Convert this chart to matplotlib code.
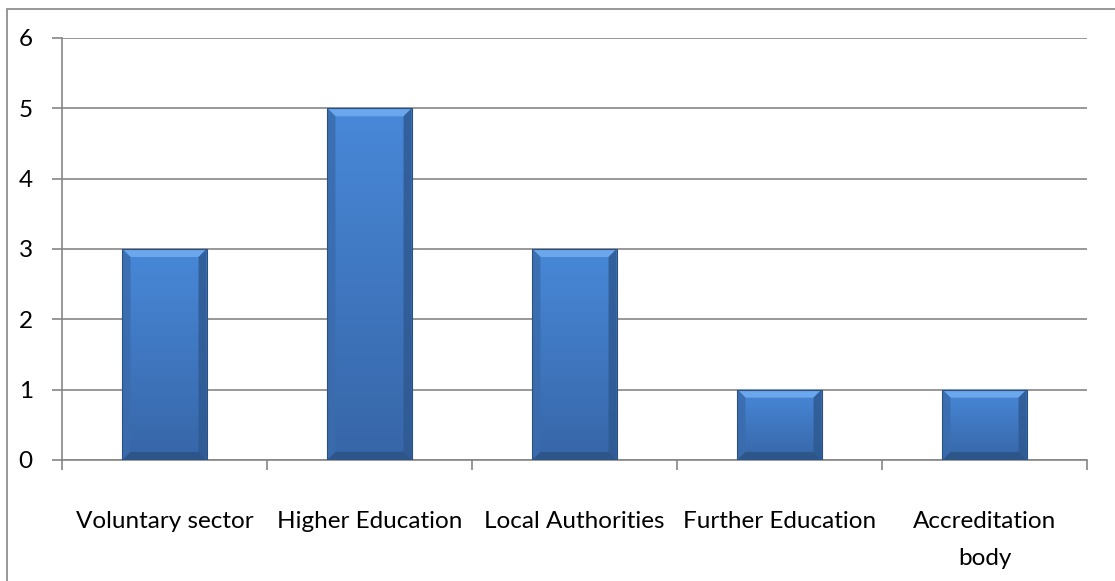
import numpy as np
import matplotlib.pyplot as plt
from matplotlib.patches import Polygon, Rectangle

categories = ["Voluntary sector", "Higher Education", "Local Authorities",
              "Further Education", "Accreditation\nbody"]
values = [3, 5, 3, 1, 1]

plt.rcParams["font.family"] = ["Lato", "DejaVu Sans"]

fig = plt.figure(figsize=(11.15, 5.81), dpi=100)
ax = fig.add_axes([0.0556, 0.2083, 0.9193, 0.7263])

# outer chart border (right and bottom sides fall off the canvas)
fig.patches.append(Rectangle((6.5 / 1115, -10 / 581), 1120 / 1115, 582 / 581,
                             transform=fig.transFigure, fill=False,
                             edgecolor="#868686", linewidth=1.2))

x = np.arange(len(categories))
width = 0.41
bars = ax.bar(x, values, width=width, color="#4279c4", edgecolor="none", zorder=3)

# shaded face and bevelled edges on each bar
bx = 8 / 205
by = 8 / 70.3
grad = np.linspace(0, 1, 64).reshape(-1, 1)
face = np.zeros((64, 1, 3))
top_c = np.array([72, 136, 216]) / 255
bot_c = np.array([55, 102, 168]) / 255
face[:, 0, :] = top_c * (1 - grad) + bot_c * grad
for b in bars:
    x0, y0 = b.get_x(), b.get_y()
    w, h = b.get_width(), b.get_height()
    im = ax.imshow(face, extent=[x0, x0 + w, y0, y0 + h], origin="upper",
                   aspect="auto", zorder=3, interpolation="bilinear")
    im.set_clip_path(b)
    x1, y1 = x0 + w, y0 + h
    ax.add_patch(Polygon([(x0, y1), (x1, y1), (x1 - bx, y1 - by), (x0 + bx, y1 - by)],
                         closed=True, facecolor="#6aa7ec", edgecolor="none", zorder=4))
    ax.add_patch(Polygon([(x0, y1), (x0 + bx, y1 - by), (x0 + bx, y0 + by), (x0, y0)],
                         closed=True, facecolor="#3a6cad", edgecolor="none", zorder=4, alpha=0.85))
    ax.add_patch(Polygon([(x1, y1), (x1 - bx, y1 - by), (x1 - bx, y0 + by), (x1, y0)],
                         closed=True, facecolor="#2f5a92", edgecolor="none", zorder=4, alpha=0.85))
    ax.add_patch(Polygon([(x0, y0), (x0 + bx, y0 + by), (x1 - bx, y0 + by), (x1, y0)],
                         closed=True, facecolor="#2c5486", edgecolor="none", zorder=4, alpha=0.9))
    ax.add_patch(Rectangle((x0, y0), w, h, fill=False, edgecolor="#2a4f80",
                           linewidth=0.8, zorder=5))

ax.set_xlim(-0.5, len(categories) - 0.5)
ax.set_ylim(0, 6)
ax.set_yticks(range(0, 7))
ax.yaxis.grid(True, color="#868686", linewidth=1.2, zorder=0)
ax.set_axisbelow(True)

ax.set_xticks(x)
ax.set_xticklabels(categories, fontsize=17.5, linespacing=1.9)
ax.set_xticks(np.arange(-0.5, len(categories)), minor=True)
ax.tick_params(axis="x", which="major", length=0, pad=37)
ax.tick_params(axis="x", which="minor", length=7, width=1.2, color="#868686", direction="out")
ax.tick_params(axis="y", length=7, width=1.2, color="#868686", labelsize=17.5, pad=14)

for side in ["top", "right"]:
    ax.spines[side].set_visible(False)
for side in ["left", "bottom"]:
    ax.spines[side].set_color("#868686")
    ax.spines[side].set_linewidth(1.2)

fig.savefig("out.png", dpi=100)
